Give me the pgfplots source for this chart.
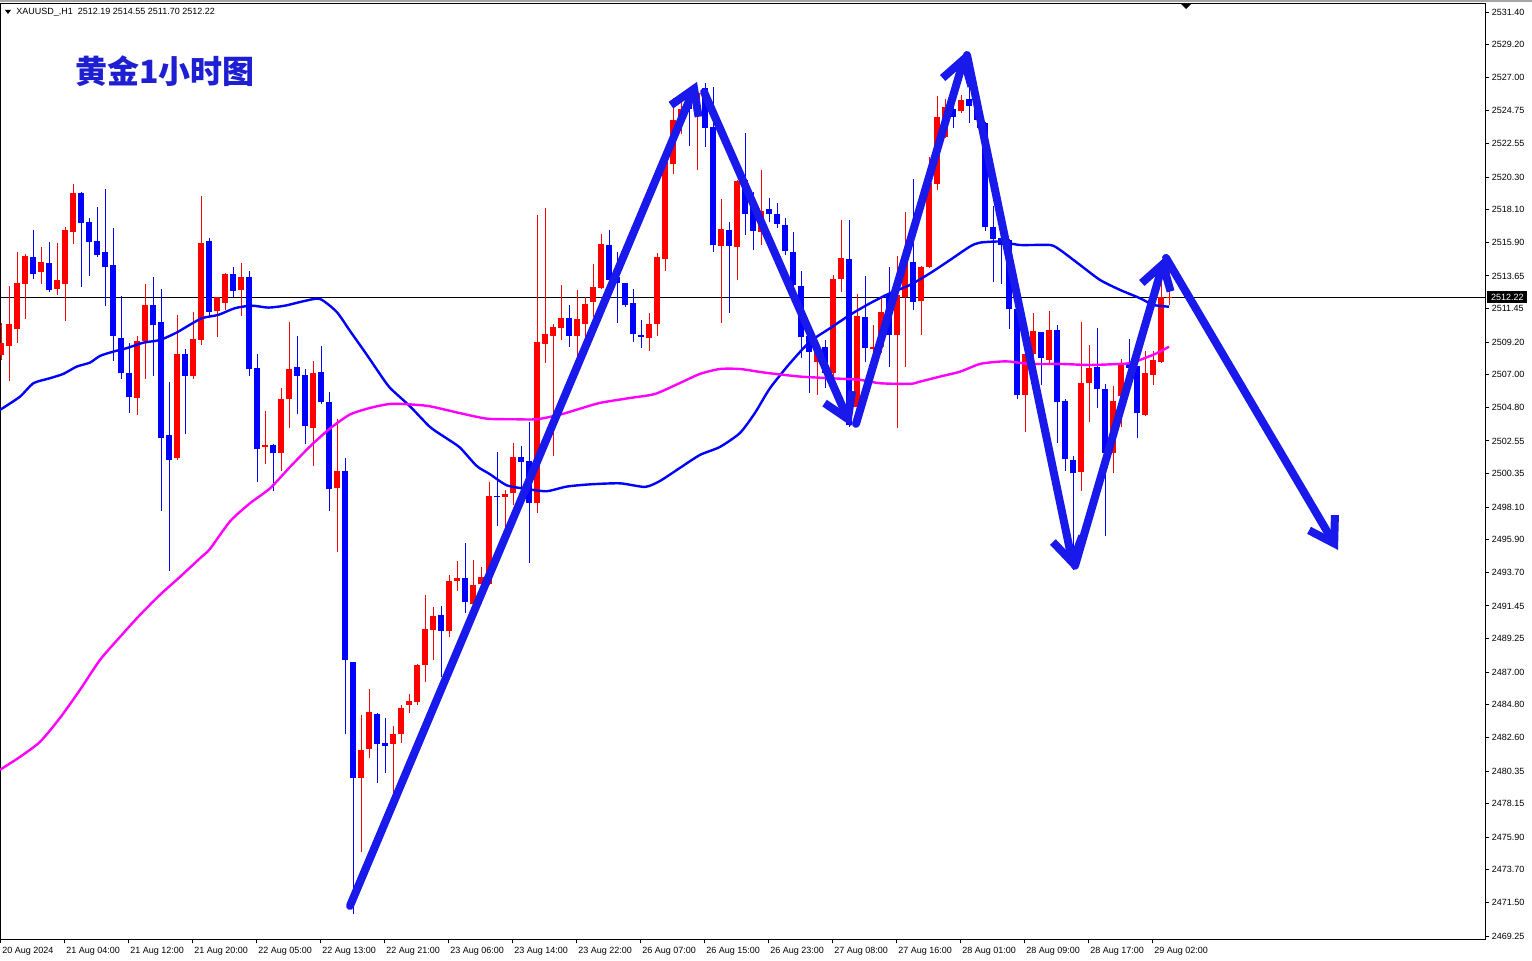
\documentclass[border=0pt]{standalone}
\usepackage{pgfplots}
\pgfplotsset{compat=1.18}
\usepackage{pgfplotstable}
\usepackage{fontspec}
\setmainfont{Liberation Sans}
\newfontfamily\cjk{Noto Sans CJK SC}
\usetikzlibrary{arrows.meta}
\definecolor{upc}{RGB}{255,0,0}
\definecolor{dnc}{RGB}{0,0,255}
\definecolor{mab}{RGB}{0,0,255}
\definecolor{mam}{RGB}{255,0,255}
\definecolor{arr}{RGB}{25,25,235}
\definecolor{ttl}{RGB}{30,30,210}
\pgfplotstableread{
k o h l c u
0 2508.33 2510.46 2507.99 2509.12 1
1 2508.94 2512.97 2506.61 2510.42 1
2 2510.10 2515.26 2509.16 2513.15 1
3 2513.11 2515.13 2510.78 2515.00 1
4 2514.91 2516.74 2513.47 2513.80 0
5 2513.94 2515.60 2513.13 2514.59 1
6 2514.50 2515.94 2512.60 2512.73 0
7 2512.79 2515.87 2512.39 2513.38 1
8 2513.13 2516.96 2510.64 2516.74 1
9 2516.63 2519.84 2515.82 2519.23 1
10 2519.23 2519.30 2512.93 2517.23 0
11 2517.28 2517.53 2513.67 2515.96 0
12 2516.00 2518.29 2514.91 2515.08 0
13 2515.26 2519.50 2511.63 2514.27 0
14 2514.37 2516.86 2507.93 2509.63 0
15 2509.48 2512.28 2506.74 2507.14 0
16 2507.12 2509.16 2504.46 2505.53 0
17 2505.46 2509.63 2504.32 2509.25 1
18 2509.27 2513.11 2506.74 2511.69 1
19 2511.69 2513.58 2506.94 2510.37 0
20 2510.55 2512.77 2497.87 2502.77 0
21 2502.96 2506.52 2493.83 2501.30 0
22 2501.37 2511.03 2501.30 2508.40 1
23 2508.40 2508.74 2503.04 2506.94 0
24 2506.94 2511.23 2506.74 2509.41 1
25 2509.34 2519.03 2509.01 2515.87 1
26 2516.00 2516.18 2510.91 2511.25 0
27 2511.32 2512.24 2509.57 2512.22 1
28 2511.85 2513.85 2511.36 2513.78 1
29 2513.78 2514.25 2512.22 2512.66 0
30 2512.73 2514.52 2510.98 2513.58 1
31 2513.58 2513.98 2506.89 2507.41 0
32 2507.46 2508.42 2499.79 2502.03 0
33 2502.12 2504.57 2501.03 2502.29 1
34 2502.29 2502.35 2499.16 2501.75 0
35 2501.75 2506.14 2500.54 2505.38 1
36 2505.34 2510.52 2503.39 2507.41 1
37 2507.55 2509.62 2504.33 2506.95 0
38 2506.98 2507.41 2502.32 2503.53 0
39 2503.44 2507.93 2500.88 2507.13 1
40 2507.18 2508.93 2505.05 2505.17 0
41 2505.17 2505.86 2497.87 2499.30 0
42 2499.36 2504.02 2495.05 2500.51 1
43 2500.54 2501.40 2482.83 2487.80 0
44 2487.66 2487.70 2470.71 2479.90 0
45 2479.90 2484.13 2474.87 2481.77 1
46 2481.83 2485.88 2481.20 2484.30 1
47 2484.21 2484.26 2479.56 2482.15 0
48 2482.20 2483.93 2480.19 2482.06 0
49 2482.14 2483.35 2478.66 2482.82 1
50 2482.82 2484.77 2482.26 2484.58 1
51 2484.82 2485.50 2484.27 2485.04 1
52 2484.98 2487.55 2484.82 2487.51 1
53 2487.48 2492.17 2486.37 2489.88 1
54 2489.82 2491.37 2487.82 2490.75 1
55 2490.87 2491.43 2486.67 2489.76 0
56 2489.76 2493.53 2489.39 2493.16 1
57 2493.12 2494.45 2492.45 2493.31 1
58 2493.31 2495.69 2491.00 2491.71 0
59 2491.61 2494.51 2491.00 2492.85 1
60 2492.91 2494.08 2491.61 2493.40 1
61 2492.91 2499.82 2492.87 2498.86 1
62 2498.86 2501.79 2496.86 2498.77 0
63 2498.77 2499.26 2496.70 2498.96 1
64 2499.02 2502.41 2498.25 2501.48 1
65 2501.48 2502.20 2499.32 2501.11 0
66 2501.23 2503.80 2494.33 2498.40 0
67 2498.40 2517.74 2497.72 2509.20 1
68 2509.10 2518.24 2507.81 2509.72 1
69 2509.63 2510.43 2501.54 2510.19 1
70 2510.12 2513.05 2509.35 2510.80 1
71 2510.80 2511.67 2508.89 2509.60 0
72 2509.60 2512.68 2508.27 2510.74 1
73 2510.44 2512.22 2509.57 2511.77 1
74 2511.92 2514.46 2510.91 2512.91 1
75 2512.82 2516.47 2512.77 2515.80 1
76 2515.73 2516.74 2513.23 2513.38 0
77 2513.56 2515.24 2510.47 2513.16 0
78 2513.16 2513.20 2511.58 2511.70 0
79 2511.81 2512.75 2509.19 2509.73 0
80 2509.68 2510.69 2508.79 2509.53 0
81 2509.46 2511.14 2508.61 2510.40 1
82 2510.40 2515.17 2509.63 2514.91 1
83 2514.79 2521.40 2514.00 2521.34 1
84 2521.18 2525.64 2520.51 2524.14 1
85 2524.14 2525.60 2523.20 2524.88 1
86 2525.53 2526.16 2522.39 2524.86 0
87 2524.81 2526.38 2520.78 2525.94 1
88 2526.27 2526.61 2522.34 2523.58 0
89 2523.69 2526.34 2515.28 2515.73 0
90 2515.67 2518.83 2510.47 2516.79 1
91 2516.74 2517.30 2511.18 2515.67 0
92 2515.62 2520.10 2513.38 2520.05 1
93 2520.10 2523.29 2516.41 2517.82 0
94 2518.76 2519.32 2515.40 2516.70 0
95 2516.63 2520.78 2515.73 2518.04 1
96 2518.15 2518.89 2517.26 2517.80 0
97 2517.82 2518.54 2516.86 2517.15 0
98 2517.08 2517.53 2515.06 2515.35 0
99 2515.28 2516.63 2512.71 2513.04 0
100 2512.98 2514.00 2508.11 2509.57 0
101 2509.61 2510.02 2505.76 2508.56 0
102 2507.87 2509.14 2505.65 2508.67 1
103 2508.89 2509.34 2506.10 2507.11 0
104 2507.11 2513.72 2506.43 2513.45 1
105 2513.43 2517.41 2512.59 2514.84 1
106 2514.77 2517.41 2503.52 2503.63 0
107 2504.86 2512.44 2504.75 2510.96 1
108 2510.87 2513.65 2507.89 2508.79 0
109 2508.76 2510.35 2506.99 2508.89 1
110 2508.89 2512.26 2508.45 2511.25 1
111 2512.37 2514.23 2507.55 2509.68 0
112 2509.68 2514.99 2503.41 2512.37 1
113 2512.26 2517.97 2507.55 2514.72 1
114 2514.61 2520.15 2511.36 2511.92 0
115 2511.99 2514.32 2509.68 2514.23 1
116 2514.27 2521.67 2514.19 2519.88 1
117 2519.84 2525.75 2519.43 2524.32 1
118 2523.02 2525.55 2522.91 2525.03 1
119 2524.88 2525.15 2523.62 2524.36 0
120 2524.77 2525.80 2524.63 2525.49 1
121 2525.53 2526.83 2523.96 2525.10 0
122 2525.15 2525.49 2523.60 2524.14 0
123 2523.92 2524.01 2516.70 2516.96 0
124 2516.96 2518.38 2513.27 2516.14 0
125 2516.18 2516.20 2513.11 2515.73 0
126 2516.07 2516.10 2510.07 2511.41 0
127 2511.41 2511.43 2505.36 2505.65 0
128 2505.65 2508.79 2503.14 2508.40 1
129 2508.40 2511.14 2508.13 2509.95 1
130 2509.86 2509.88 2506.32 2508.11 0
131 2508.00 2511.30 2507.66 2510.02 1
132 2510.02 2510.35 2502.44 2505.20 0
133 2505.26 2505.36 2500.56 2501.32 0
134 2501.27 2501.54 2493.88 2500.42 0
135 2500.49 2510.58 2499.21 2506.47 1
136 2506.43 2509.01 2503.85 2507.48 1
137 2507.51 2510.17 2504.79 2506.03 0
138 2506.03 2506.39 2496.17 2501.73 0
139 2501.73 2506.25 2500.38 2505.24 1
140 2505.58 2508.05 2503.47 2507.82 1
141 2507.80 2509.41 2506.65 2507.46 0
142 2507.60 2507.62 2502.73 2504.46 0
143 2504.30 2508.61 2504.23 2507.15 1
144 2506.99 2508.61 2506.32 2508.00 1
145 2507.89 2514.23 2507.78 2512.22 1
146 2512.15 2514.55 2511.70 2512.22 1
}\candles
\begin{document}
\begin{tikzpicture}
\path[use as bounding box, fill=white] (0,0) rectangle (766pt,480pt);
\fill[black!35] (0,479pt) rectangle (766pt,480pt);
\begin{axis}[
  at={(0pt,10.5pt)}, anchor=south west,
  scale only axis, width=742.5pt, height=467.5pt,
  xmin=-0.125, xmax=185.5, ymin=2469.05, ymax=2531.94,
  axis line style={black, line width=0.5pt},
  tick style={black, line width=0.5pt},
  tick align=outside, major tick length=2.2pt,
  xtick pos=left, ytick pos=right, yticklabel pos=right,
  tick label style={font=\fontsize{4.5}{5}\selectfont, inner sep=0pt},
  xticklabel style={anchor=base west, xshift=1pt, yshift=-5pt},
  yticklabel style={anchor=west, xshift=1pt},
  xtick={-0.125,7.875,15.875,23.875,31.875,39.875,47.875,55.875,63.875,71.875,79.875,87.875,95.875,103.875,111.875,119.875,127.875,135.875,143.875},
  xticklabels={20 Aug 2024,21 Aug 04:00,21 Aug 12:00,21 Aug 20:00,22 Aug 05:00,22 Aug 13:00,22 Aug 21:00,23 Aug 06:00,23 Aug 14:00,23 Aug 22:00,26 Aug 07:00,26 Aug 15:00,26 Aug 23:00,27 Aug 08:00,27 Aug 16:00,28 Aug 01:00,28 Aug 09:00,28 Aug 17:00,29 Aug 02:00},
  ytick={2469.25,2471.50,2473.70,2475.90,2478.15,2480.35,2482.60,2484.80,2487.00,2489.25,2491.45,2493.70,2495.90,2498.10,2500.35,2502.55,2504.80,2507.00,2509.20,2511.45,2513.65,2515.90,2518.10,2520.30,2522.55,2524.75,2527.00,2529.20,2531.40},
  yticklabels={2469.25,2471.50,2473.70,2475.90,2478.15,2480.35,2482.60,2484.80,2487.00,2489.25,2491.45,2493.70,2495.90,2498.10,2500.35,2502.55,2504.80,2507.00,2509.20,2511.45,2513.65,2515.90,2518.10,2520.30,2522.55,2524.75,2527.00,2529.20,2531.40},
]
% bid line
\addplot[black, line width=0.5pt, forget plot] coordinates {(-0.125,2512.22) (185.5,2512.22)};
% candles: wick from low to high, body from open to close
\pgfplotsforeachungrouped \i in {0,...,146} {
  \pgfplotstablegetelem{\i}{k}\of\candles \let\cK\pgfplotsretval
  \pgfplotstablegetelem{\i}{o}\of\candles \let\cO\pgfplotsretval
  \pgfplotstablegetelem{\i}{h}\of\candles \let\cH\pgfplotsretval
  \pgfplotstablegetelem{\i}{l}\of\candles \let\cL\pgfplotsretval
  \pgfplotstablegetelem{\i}{c}\of\candles \let\cC\pgfplotsretval
  \pgfplotstablegetelem{\i}{u}\of\candles \let\cU\pgfplotsretval
  \ifnum\cU=1 \def\cc{upc}\else\def\cc{dnc}\fi
  \edef\temp{\noexpand\addplot[\cc, line width=0.5pt, forget plot] coordinates {(\cK,\cL) (\cK,\cH)};
    \noexpand\addplot[\cc, line width=2.6pt, forget plot] coordinates {(\cK,\cO) (\cK,\cC)};}
  \temp
}
% blue moving average
\addplot[mab, line width=1.2pt, smooth, tension=0.4] coordinates {
(-0.125,2504.64) (2.375,2505.53) (4.04,2506.43) (6.125,2506.77) (7.79,2507.06) (9.46,2507.55)
(11.125,2507.82) (12.375,2508.27) (14.04,2508.56) (15.71,2508.79) (17.79,2509.16) (19.875,2509.34)
(21.96,2509.84) (23.0,2510.17) (25.09,2510.80) (27.16,2511.03) (29.25,2511.48) (31.34,2511.65)
(33.41,2511.52) (35.5,2511.65) (38.0,2511.97) (39.875,2512.10) (41.96,2511.23) (43.625,2509.95)
(45.71,2508.36) (47.375,2507.04) (48.625,2506.12) (51.125,2504.88) (53.625,2503.49) (55.71,2502.72)
(57.375,2502.10) (59.46,2500.87) (61.125,2500.31) (63.21,2499.57) (65.71,2499.32) (68.21,2499.17)
(70.71,2499.48) (73.625,2499.63) (77.375,2499.70) (80.5,2499.46) (82.375,2499.86) (84.875,2500.74)
(87.375,2501.61) (89.875,2502.15) (92.375,2503.09) (94.25,2504.44) (96.125,2506.10) (98.625,2507.78)
(101.125,2509.23) (103.625,2510.13) (106.125,2511.03) (108.625,2511.81) (111.125,2512.49) (113.625,2513.04)
(116.125,2513.83) (118.625,2514.72) (121.125,2515.63) (122.375,2515.89) (124.875,2515.96) (127.375,2515.73)
(131.125,2515.73) (132.375,2515.40) (134.875,2514.39) (137.375,2513.38) (139.875,2512.71) (142.375,2512.15)
(144.04,2511.70) (146.0,2511.58)};
% magenta moving average
\addplot[mam, line width=1.2pt, smooth, tension=0.4] coordinates {
(-0.125,2480.43) (2.375,2481.30) (4.875,2482.31) (7.375,2483.92) (9.875,2485.81) (12.375,2487.82)
(14.875,2489.37) (17.375,2490.85) (19.875,2492.20) (22.375,2493.41) (24.875,2494.66) (26.125,2495.29)
(28.625,2497.14) (31.125,2498.36) (33.625,2499.36) (36.125,2500.80) (38.625,2502.18) (41.125,2503.39)
(43.625,2504.33) (46.125,2504.77) (48.625,2505.04) (51.125,2505.01) (53.625,2504.88) (57.375,2504.42)
(60.71,2504.05) (64.04,2504.01) (66.96,2504.01) (69.875,2504.32) (72.375,2504.72) (74.875,2505.11)
(78.625,2505.44) (81.75,2505.71) (84.875,2506.45) (87.375,2507.06) (89.875,2507.39) (92.375,2507.39)
(94.875,2507.19) (96.125,2507.10) (99.875,2506.88) (103.625,2506.77) (107.375,2506.66) (109.875,2506.43)
(113.625,2506.39) (114.875,2506.54) (117.375,2506.88) (119.875,2507.21) (122.375,2507.73) (124.875,2507.89)
(126.125,2507.89) (128.625,2507.73) (132.375,2507.73) (136.125,2507.66) (139.875,2507.73) (141.125,2507.78)
(142.375,2508.00) (144.46,2508.45) (146.0,2508.89)};
% trend arrows
\pgfplotsset{arrowline/.style={arr, line width=4pt, line cap=round, -{Straight Barb[length=12pt,width=15pt]}}}
\addplot[arrowline] coordinates {(43.625,2471.28) (87.0,2526.70)};
\addplot[arrowline] coordinates {(87.875,2526.02) (106.25,2503.56)};
\addplot[arrowline] coordinates {(106.875,2503.70) (120.625,2528.71)};
\addplot[arrowline] coordinates {(120.75,2528.51) (134.125,2493.88)};
\addplot[arrowline] coordinates {(134.25,2494.15) (145.5,2514.93)};
\addplot[arrowline] coordinates {(145.625,2514.86) (167.125,2495.22)};
\coordinate (plabel) at (axis cs:185.5,2512.22);
\end{axis}
\node[fill=black, text=white, anchor=west, inner sep=0pt, minimum width=20pt, minimum height=6pt,
  font=\fontsize{4.5}{5}\selectfont] at ([xshift=1pt]plabel) {2512.22};
\node[anchor=west, inner sep=0pt, font=\fontsize{4.5}{5}\selectfont] at (8pt,474pt)
  {XAUUSD\_,H1\ \ 2512.19 2514.55 2511.70 2512.22};
\fill[black] (2.5pt,475pt) -- (5.5pt,475pt) -- (4pt,473pt) -- cycle;
\fill[black] (590.5pt,478pt) -- (595.5pt,478pt) -- (593pt,475.5pt) -- cycle;
\node[anchor=west, inner sep=0pt, text=ttl, font=\cjk\bfseries\fontsize{16}{18}\selectfont] at (37.5pt,444.5pt) {黄金1小时图};
\end{tikzpicture}
\end{document}
